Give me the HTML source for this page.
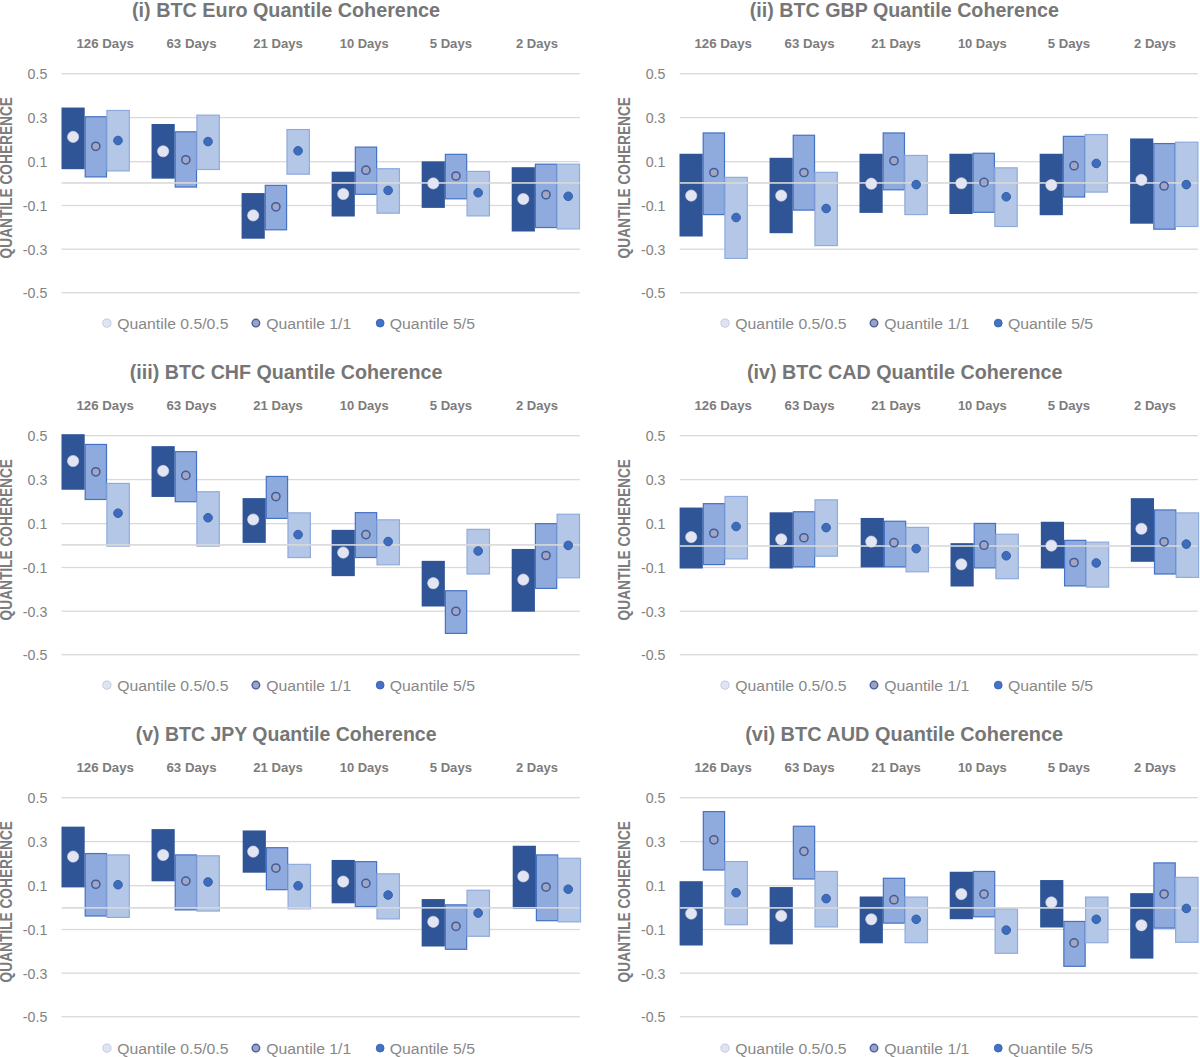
<!DOCTYPE html>
<html><head><meta charset="utf-8"><title>Quantile Coherence</title>
<style>
html,body{margin:0;padding:0;background:#fff;}
body{width:1200px;height:1057px;overflow:hidden;}
svg{display:block;}
text{font-family:"Liberation Sans",sans-serif;}
.ti{font-size:19.4px;font-weight:bold;fill:#767676;}
.ca{font-size:13px;font-weight:bold;fill:#7c7c7c;}
.yt{font-size:16.3px;font-weight:bold;fill:#7c7c7c;}
.tk{font-size:14.2px;fill:#828282;text-anchor:end;}
.lg{font-size:15.3px;fill:#888888;}
</style></head>
<body>
<svg width="1200" height="1057" viewBox="0 0 1200 1057">
<rect width="1200" height="1057" fill="#ffffff"/>
<g transform="translate(0,0)">
<text class="ti" x="132" y="16.6" textLength="308" lengthAdjust="spacingAndGlyphs">(i) BTC Euro Quantile Coherence</text>
<text class="ca" x="76.4" y="48.1" textLength="57.5" lengthAdjust="spacingAndGlyphs">126 Days</text>
<text class="ca" x="166.5" y="48.1" textLength="50" lengthAdjust="spacingAndGlyphs">63 Days</text>
<text class="ca" x="253.2" y="48.1" textLength="49.6" lengthAdjust="spacingAndGlyphs">21 Days</text>
<text class="ca" x="339.8" y="48.1" textLength="48.9" lengthAdjust="spacingAndGlyphs">10 Days</text>
<text class="ca" x="429.7" y="48.1" textLength="42.3" lengthAdjust="spacingAndGlyphs">5 Days</text>
<text class="ca" x="516" y="48.1" textLength="42" lengthAdjust="spacingAndGlyphs">2 Days</text>
<text class="yt" transform="translate(11.7,258.4) rotate(-90)" x="0" y="0" textLength="161.4" lengthAdjust="spacingAndGlyphs">QUANTILE COHERENCE</text>
<text class="tk" x="47.3" y="79.27">0.5</text>
<rect x="61.6" y="73.02" width="518.1" height="1.3" fill="#d9d9d9"/>
<text class="tk" x="47.3" y="123.18">0.3</text>
<rect x="61.6" y="116.93" width="518.1" height="1.3" fill="#d9d9d9"/>
<text class="tk" x="47.3" y="167.27">0.1</text>
<rect x="61.6" y="161.02" width="518.1" height="1.3" fill="#d9d9d9"/>
<text class="tk" x="47.3" y="211.1">-0.1</text>
<rect x="61.6" y="204.85" width="518.1" height="1.3" fill="#d9d9d9"/>
<text class="tk" x="47.3" y="254.77">-0.3</text>
<rect x="61.6" y="248.52" width="518.1" height="1.3" fill="#d9d9d9"/>
<text class="tk" x="47.3" y="298.35">-0.5</text>
<rect x="61.6" y="292.1" width="518.1" height="1.3" fill="#d9d9d9"/>
<rect x="61.5" y="107.55" width="23.2" height="61.65" fill="#2f5597"/>
<rect x="85.2" y="116.75" width="21.3" height="60.15" fill="#8faadc" stroke="#4472c4" stroke-width="1.2"/>
<rect x="106.9" y="110.45" width="22.4" height="60.45" fill="#b4c7e7" stroke="#8faadc" stroke-width="1.2"/>
<rect x="151.54" y="124" width="23.2" height="54.65" fill="#2f5597"/>
<rect x="175.24" y="131.8" width="21.3" height="55.25" fill="#8faadc" stroke="#4472c4" stroke-width="1.2"/>
<rect x="196.94" y="115.15" width="22.4" height="54.35" fill="#b4c7e7" stroke="#8faadc" stroke-width="1.2"/>
<rect x="241.58" y="193.05" width="23.2" height="45.65" fill="#2f5597"/>
<rect x="265.28" y="185.35" width="21.3" height="44.45" fill="#8faadc" stroke="#4472c4" stroke-width="1.2"/>
<rect x="286.98" y="129.55" width="22.4" height="44.65" fill="#b4c7e7" stroke="#8faadc" stroke-width="1.2"/>
<rect x="331.62" y="171.7" width="23.2" height="44.8" fill="#2f5597"/>
<rect x="355.32" y="147.1" width="21.3" height="47.2" fill="#8faadc" stroke="#4472c4" stroke-width="1.2"/>
<rect x="377.02" y="168.7" width="22.4" height="44.5" fill="#b4c7e7" stroke="#8faadc" stroke-width="1.2"/>
<rect x="421.66" y="161.35" width="23.2" height="46.55" fill="#2f5597"/>
<rect x="445.36" y="154.35" width="21.3" height="44.45" fill="#8faadc" stroke="#4472c4" stroke-width="1.2"/>
<rect x="467.06" y="171.4" width="22.4" height="44.5" fill="#b4c7e7" stroke="#8faadc" stroke-width="1.2"/>
<rect x="511.7" y="167.2" width="23.2" height="64.3" fill="#2f5597"/>
<rect x="535.4" y="164.2" width="21.3" height="63.35" fill="#8faadc" stroke="#4472c4" stroke-width="1.2"/>
<rect x="557.1" y="164.2" width="22.4" height="64.7" fill="#b4c7e7" stroke="#8faadc" stroke-width="1.2"/>
<rect x="61.6" y="182.15" width="518.1" height="1.6" fill="#d9d9d9"/>
<circle cx="73.1" cy="136.9" r="5.6" fill="#e3e5f3" stroke="#d6daee" stroke-width="0.6"/>
<circle cx="95.8" cy="146.3" r="4.1" fill="#a1a6c3" stroke="#405c9a" stroke-width="1.5"/>
<circle cx="118" cy="140.5" r="4.3" fill="#3e6cbc" stroke="#345ea8" stroke-width="1"/>
<circle cx="163.14" cy="151.25" r="5.6" fill="#e3e5f3" stroke="#d6daee" stroke-width="0.6"/>
<circle cx="185.84" cy="159.8" r="4.1" fill="#a1a6c3" stroke="#405c9a" stroke-width="1.5"/>
<circle cx="208.04" cy="141.6" r="4.3" fill="#3e6cbc" stroke="#345ea8" stroke-width="1"/>
<circle cx="253.18" cy="215.4" r="5.6" fill="#e3e5f3" stroke="#d6daee" stroke-width="0.6"/>
<circle cx="275.88" cy="206.8" r="4.1" fill="#a1a6c3" stroke="#405c9a" stroke-width="1.5"/>
<circle cx="298.08" cy="150.8" r="4.3" fill="#3e6cbc" stroke="#345ea8" stroke-width="1"/>
<circle cx="343.22" cy="194" r="5.6" fill="#e3e5f3" stroke="#d6daee" stroke-width="0.6"/>
<circle cx="365.92" cy="170.2" r="4.1" fill="#a1a6c3" stroke="#405c9a" stroke-width="1.5"/>
<circle cx="388.12" cy="190.4" r="4.3" fill="#3e6cbc" stroke="#345ea8" stroke-width="1"/>
<circle cx="433.26" cy="183.4" r="5.6" fill="#e3e5f3" stroke="#d6daee" stroke-width="0.6"/>
<circle cx="455.96" cy="176" r="4.1" fill="#a1a6c3" stroke="#405c9a" stroke-width="1.5"/>
<circle cx="478.16" cy="192.7" r="4.3" fill="#3e6cbc" stroke="#345ea8" stroke-width="1"/>
<circle cx="523.3" cy="199" r="5.6" fill="#e3e5f3" stroke="#d6daee" stroke-width="0.6"/>
<circle cx="546" cy="194.7" r="4.1" fill="#a1a6c3" stroke="#405c9a" stroke-width="1.5"/>
<circle cx="568.2" cy="196.3" r="4.3" fill="#3e6cbc" stroke="#345ea8" stroke-width="1"/>
<circle cx="106.9" cy="323.1" r="4.1" fill="#e0e3f2" stroke="#c5cbe5" stroke-width="1"/>
<text class="lg" x="117.25" y="328.8" textLength="111.25" lengthAdjust="spacingAndGlyphs">Quantile 0.5/0.5</text>
<circle cx="255.9" cy="323.1" r="3.8" fill="#9ca3c4" stroke="#45609f" stroke-width="1.4"/>
<text class="lg" x="266.25" y="328.8" textLength="85" lengthAdjust="spacingAndGlyphs">Quantile 1/1</text>
<circle cx="380.15" cy="323.1" r="3.9" fill="#4472c4" stroke="#3a64b5" stroke-width="1"/>
<text class="lg" x="389.8" y="328.8" textLength="85.2" lengthAdjust="spacingAndGlyphs">Quantile 5/5</text>
</g>
<g transform="translate(618.1,0)">
<text class="ti" x="131.7" y="16.6" textLength="309.1" lengthAdjust="spacingAndGlyphs">(ii) BTC GBP Quantile Coherence</text>
<text class="ca" x="76.4" y="48.1" textLength="57.5" lengthAdjust="spacingAndGlyphs">126 Days</text>
<text class="ca" x="166.5" y="48.1" textLength="50" lengthAdjust="spacingAndGlyphs">63 Days</text>
<text class="ca" x="253.2" y="48.1" textLength="49.6" lengthAdjust="spacingAndGlyphs">21 Days</text>
<text class="ca" x="339.8" y="48.1" textLength="48.9" lengthAdjust="spacingAndGlyphs">10 Days</text>
<text class="ca" x="429.7" y="48.1" textLength="42.3" lengthAdjust="spacingAndGlyphs">5 Days</text>
<text class="ca" x="516" y="48.1" textLength="42" lengthAdjust="spacingAndGlyphs">2 Days</text>
<text class="yt" transform="translate(11.7,258.4) rotate(-90)" x="0" y="0" textLength="161.4" lengthAdjust="spacingAndGlyphs">QUANTILE COHERENCE</text>
<text class="tk" x="47.3" y="79.27">0.5</text>
<rect x="61.6" y="73.02" width="518.1" height="1.3" fill="#d9d9d9"/>
<text class="tk" x="47.3" y="123.18">0.3</text>
<rect x="61.6" y="116.93" width="518.1" height="1.3" fill="#d9d9d9"/>
<text class="tk" x="47.3" y="167.27">0.1</text>
<rect x="61.6" y="161.02" width="518.1" height="1.3" fill="#d9d9d9"/>
<text class="tk" x="47.3" y="211.1">-0.1</text>
<rect x="61.6" y="204.85" width="518.1" height="1.3" fill="#d9d9d9"/>
<text class="tk" x="47.3" y="254.77">-0.3</text>
<rect x="61.6" y="248.52" width="518.1" height="1.3" fill="#d9d9d9"/>
<text class="tk" x="47.3" y="298.35">-0.5</text>
<rect x="61.6" y="292.1" width="518.1" height="1.3" fill="#d9d9d9"/>
<rect x="61.4" y="153.75" width="23.2" height="82.75" fill="#2f5597"/>
<rect x="85.1" y="132.95" width="21.3" height="81.65" fill="#8faadc" stroke="#4472c4" stroke-width="1.2"/>
<rect x="106.8" y="177.35" width="22.4" height="81.05" fill="#b4c7e7" stroke="#8faadc" stroke-width="1.2"/>
<rect x="151.44" y="157.8" width="23.2" height="75.4" fill="#2f5597"/>
<rect x="175.14" y="135.25" width="21.3" height="74.85" fill="#8faadc" stroke="#4472c4" stroke-width="1.2"/>
<rect x="196.84" y="172.35" width="22.4" height="73.25" fill="#b4c7e7" stroke="#8faadc" stroke-width="1.2"/>
<rect x="241.38" y="153.75" width="23.2" height="59.15" fill="#2f5597"/>
<rect x="265.08" y="132.95" width="21.3" height="56.85" fill="#8faadc" stroke="#4472c4" stroke-width="1.2"/>
<rect x="286.78" y="155.45" width="22.4" height="59.15" fill="#b4c7e7" stroke="#8faadc" stroke-width="1.2"/>
<rect x="331.32" y="153.75" width="23.2" height="60.25" fill="#2f5597"/>
<rect x="355.02" y="153.25" width="21.3" height="59.05" fill="#8faadc" stroke="#4472c4" stroke-width="1.2"/>
<rect x="376.72" y="167.85" width="22.4" height="58.65" fill="#b4c7e7" stroke="#8faadc" stroke-width="1.2"/>
<rect x="421.56" y="153.75" width="23.2" height="61.45" fill="#2f5597"/>
<rect x="445.26" y="136.35" width="21.3" height="60.65" fill="#8faadc" stroke="#4472c4" stroke-width="1.2"/>
<rect x="466.96" y="134.55" width="22.4" height="57.55" fill="#b4c7e7" stroke="#8faadc" stroke-width="1.2"/>
<rect x="512" y="138.45" width="23.2" height="85.25" fill="#2f5597"/>
<rect x="535.7" y="143.55" width="21.3" height="85.65" fill="#8faadc" stroke="#4472c4" stroke-width="1.2"/>
<rect x="557.4" y="142.2" width="22.4" height="84.3" fill="#b4c7e7" stroke="#8faadc" stroke-width="1.2"/>
<rect x="61.6" y="182.15" width="518.1" height="1.6" fill="#d9d9d9"/>
<circle cx="73.1" cy="195.6" r="5.6" fill="#e3e5f3" stroke="#d6daee" stroke-width="0.6"/>
<circle cx="95.8" cy="172.5" r="4.1" fill="#a1a6c3" stroke="#405c9a" stroke-width="1.5"/>
<circle cx="118" cy="217.5" r="4.3" fill="#3e6cbc" stroke="#345ea8" stroke-width="1"/>
<circle cx="163.14" cy="195.6" r="5.6" fill="#e3e5f3" stroke="#d6daee" stroke-width="0.6"/>
<circle cx="185.84" cy="172.5" r="4.1" fill="#a1a6c3" stroke="#405c9a" stroke-width="1.5"/>
<circle cx="208.04" cy="208.5" r="4.3" fill="#3e6cbc" stroke="#345ea8" stroke-width="1"/>
<circle cx="253.18" cy="183.7" r="5.6" fill="#e3e5f3" stroke="#d6daee" stroke-width="0.6"/>
<circle cx="275.88" cy="160.75" r="4.1" fill="#a1a6c3" stroke="#405c9a" stroke-width="1.5"/>
<circle cx="298.08" cy="184.6" r="4.3" fill="#3e6cbc" stroke="#345ea8" stroke-width="1"/>
<circle cx="343.22" cy="183.25" r="5.6" fill="#e3e5f3" stroke="#d6daee" stroke-width="0.6"/>
<circle cx="365.92" cy="182.4" r="4.1" fill="#a1a6c3" stroke="#405c9a" stroke-width="1.5"/>
<circle cx="388.12" cy="196.75" r="4.3" fill="#3e6cbc" stroke="#345ea8" stroke-width="1"/>
<circle cx="433.26" cy="185.05" r="5.6" fill="#e3e5f3" stroke="#d6daee" stroke-width="0.6"/>
<circle cx="455.96" cy="165.7" r="4.1" fill="#a1a6c3" stroke="#405c9a" stroke-width="1.5"/>
<circle cx="478.16" cy="163.45" r="4.3" fill="#3e6cbc" stroke="#345ea8" stroke-width="1"/>
<circle cx="523.3" cy="179.9" r="5.6" fill="#e3e5f3" stroke="#d6daee" stroke-width="0.6"/>
<circle cx="546" cy="186" r="4.1" fill="#a1a6c3" stroke="#405c9a" stroke-width="1.5"/>
<circle cx="568.2" cy="184.6" r="4.3" fill="#3e6cbc" stroke="#345ea8" stroke-width="1"/>
<circle cx="106.9" cy="323.1" r="4.1" fill="#e0e3f2" stroke="#c5cbe5" stroke-width="1"/>
<text class="lg" x="117.25" y="328.8" textLength="111.25" lengthAdjust="spacingAndGlyphs">Quantile 0.5/0.5</text>
<circle cx="255.9" cy="323.1" r="3.8" fill="#9ca3c4" stroke="#45609f" stroke-width="1.4"/>
<text class="lg" x="266.25" y="328.8" textLength="85" lengthAdjust="spacingAndGlyphs">Quantile 1/1</text>
<circle cx="380.15" cy="323.1" r="3.9" fill="#4472c4" stroke="#3a64b5" stroke-width="1"/>
<text class="lg" x="389.8" y="328.8" textLength="85.2" lengthAdjust="spacingAndGlyphs">Quantile 5/5</text>
</g>
<g transform="translate(0,362)">
<text class="ti" x="129.8" y="16.6" textLength="312.6" lengthAdjust="spacingAndGlyphs">(iii) BTC CHF Quantile Coherence</text>
<text class="ca" x="76.4" y="48.1" textLength="57.5" lengthAdjust="spacingAndGlyphs">126 Days</text>
<text class="ca" x="166.5" y="48.1" textLength="50" lengthAdjust="spacingAndGlyphs">63 Days</text>
<text class="ca" x="253.2" y="48.1" textLength="49.6" lengthAdjust="spacingAndGlyphs">21 Days</text>
<text class="ca" x="339.8" y="48.1" textLength="48.9" lengthAdjust="spacingAndGlyphs">10 Days</text>
<text class="ca" x="429.7" y="48.1" textLength="42.3" lengthAdjust="spacingAndGlyphs">5 Days</text>
<text class="ca" x="516" y="48.1" textLength="42" lengthAdjust="spacingAndGlyphs">2 Days</text>
<text class="yt" transform="translate(11.7,258.4) rotate(-90)" x="0" y="0" textLength="161.4" lengthAdjust="spacingAndGlyphs">QUANTILE COHERENCE</text>
<text class="tk" x="47.3" y="79.27">0.5</text>
<rect x="61.6" y="73.02" width="518.1" height="1.3" fill="#d9d9d9"/>
<text class="tk" x="47.3" y="123.18">0.3</text>
<rect x="61.6" y="116.93" width="518.1" height="1.3" fill="#d9d9d9"/>
<text class="tk" x="47.3" y="167.27">0.1</text>
<rect x="61.6" y="161.02" width="518.1" height="1.3" fill="#d9d9d9"/>
<text class="tk" x="47.3" y="211.1">-0.1</text>
<rect x="61.6" y="204.85" width="518.1" height="1.3" fill="#d9d9d9"/>
<text class="tk" x="47.3" y="254.77">-0.3</text>
<rect x="61.6" y="248.52" width="518.1" height="1.3" fill="#d9d9d9"/>
<text class="tk" x="47.3" y="298.35">-0.5</text>
<rect x="61.6" y="292.1" width="518.1" height="1.3" fill="#d9d9d9"/>
<rect x="61.5" y="72.2" width="23.2" height="55.55" fill="#2f5597"/>
<rect x="85.2" y="82.45" width="21.3" height="55.05" fill="#8faadc" stroke="#4472c4" stroke-width="1.2"/>
<rect x="106.9" y="121.4" width="22.4" height="62.7" fill="#b4c7e7" stroke="#8faadc" stroke-width="1.2"/>
<rect x="151.54" y="84.15" width="23.2" height="50.8" fill="#2f5597"/>
<rect x="175.24" y="89.65" width="21.3" height="50.1" fill="#8faadc" stroke="#4472c4" stroke-width="1.2"/>
<rect x="196.94" y="129.75" width="22.4" height="54.35" fill="#b4c7e7" stroke="#8faadc" stroke-width="1.2"/>
<rect x="242.58" y="136.1" width="23.2" height="44.8" fill="#2f5597"/>
<rect x="266.28" y="114.45" width="21.3" height="41.95" fill="#8faadc" stroke="#4472c4" stroke-width="1.2"/>
<rect x="287.98" y="150.85" width="22.4" height="44.7" fill="#b4c7e7" stroke="#8faadc" stroke-width="1.2"/>
<rect x="331.62" y="167.85" width="23.2" height="46.3" fill="#2f5597"/>
<rect x="355.32" y="150.65" width="21.3" height="44.9" fill="#8faadc" stroke="#4472c4" stroke-width="1.2"/>
<rect x="377.02" y="157.85" width="22.4" height="44.95" fill="#b4c7e7" stroke="#8faadc" stroke-width="1.2"/>
<rect x="421.66" y="198.85" width="23.2" height="45.65" fill="#2f5597"/>
<rect x="445.36" y="228.75" width="21.3" height="42.65" fill="#8faadc" stroke="#4472c4" stroke-width="1.2"/>
<rect x="467.06" y="167.35" width="22.4" height="44.65" fill="#b4c7e7" stroke="#8faadc" stroke-width="1.2"/>
<rect x="511.7" y="186.95" width="23.2" height="62.75" fill="#2f5597"/>
<rect x="535.4" y="161.65" width="21.3" height="64.75" fill="#8faadc" stroke="#4472c4" stroke-width="1.2"/>
<rect x="557.1" y="152.25" width="22.4" height="63.55" fill="#b4c7e7" stroke="#8faadc" stroke-width="1.2"/>
<rect x="61.6" y="182.1" width="518.1" height="1.6" fill="#d9d9d9"/>
<circle cx="73.1" cy="99" r="5.6" fill="#e3e5f3" stroke="#d6daee" stroke-width="0.6"/>
<circle cx="95.8" cy="109.8" r="4.1" fill="#a1a6c3" stroke="#405c9a" stroke-width="1.5"/>
<circle cx="118" cy="151.2" r="4.3" fill="#3e6cbc" stroke="#345ea8" stroke-width="1"/>
<circle cx="163.14" cy="108.9" r="5.6" fill="#e3e5f3" stroke="#d6daee" stroke-width="0.6"/>
<circle cx="185.84" cy="113.4" r="4.1" fill="#a1a6c3" stroke="#405c9a" stroke-width="1.5"/>
<circle cx="208.04" cy="155.7" r="4.3" fill="#3e6cbc" stroke="#345ea8" stroke-width="1"/>
<circle cx="253.18" cy="157.5" r="5.6" fill="#e3e5f3" stroke="#d6daee" stroke-width="0.6"/>
<circle cx="275.88" cy="134.55" r="4.1" fill="#a1a6c3" stroke="#405c9a" stroke-width="1.5"/>
<circle cx="298.08" cy="172.6" r="4.3" fill="#3e6cbc" stroke="#345ea8" stroke-width="1"/>
<circle cx="343.22" cy="190.6" r="5.6" fill="#e3e5f3" stroke="#d6daee" stroke-width="0.6"/>
<circle cx="365.92" cy="172.6" r="4.1" fill="#a1a6c3" stroke="#405c9a" stroke-width="1.5"/>
<circle cx="388.12" cy="179.55" r="4.3" fill="#3e6cbc" stroke="#345ea8" stroke-width="1"/>
<circle cx="433.26" cy="221.2" r="5.6" fill="#e3e5f3" stroke="#d6daee" stroke-width="0.6"/>
<circle cx="455.96" cy="249.3" r="4.1" fill="#a1a6c3" stroke="#405c9a" stroke-width="1.5"/>
<circle cx="478.16" cy="189" r="4.3" fill="#3e6cbc" stroke="#345ea8" stroke-width="1"/>
<circle cx="523.3" cy="217.6" r="5.6" fill="#e3e5f3" stroke="#d6daee" stroke-width="0.6"/>
<circle cx="546" cy="193.5" r="4.1" fill="#a1a6c3" stroke="#405c9a" stroke-width="1.5"/>
<circle cx="568.2" cy="183.4" r="4.3" fill="#3e6cbc" stroke="#345ea8" stroke-width="1"/>
<circle cx="106.9" cy="323.1" r="4.1" fill="#e0e3f2" stroke="#c5cbe5" stroke-width="1"/>
<text class="lg" x="117.25" y="328.8" textLength="111.25" lengthAdjust="spacingAndGlyphs">Quantile 0.5/0.5</text>
<circle cx="255.9" cy="323.1" r="3.8" fill="#9ca3c4" stroke="#45609f" stroke-width="1.4"/>
<text class="lg" x="266.25" y="328.8" textLength="85" lengthAdjust="spacingAndGlyphs">Quantile 1/1</text>
<circle cx="380.15" cy="323.1" r="3.9" fill="#4472c4" stroke="#3a64b5" stroke-width="1"/>
<text class="lg" x="389.8" y="328.8" textLength="85.2" lengthAdjust="spacingAndGlyphs">Quantile 5/5</text>
</g>
<g transform="translate(618.1,362)">
<text class="ti" x="128.8" y="16.6" textLength="315.5" lengthAdjust="spacingAndGlyphs">(iv) BTC CAD Quantile Coherence</text>
<text class="ca" x="76.4" y="48.1" textLength="57.5" lengthAdjust="spacingAndGlyphs">126 Days</text>
<text class="ca" x="166.5" y="48.1" textLength="50" lengthAdjust="spacingAndGlyphs">63 Days</text>
<text class="ca" x="253.2" y="48.1" textLength="49.6" lengthAdjust="spacingAndGlyphs">21 Days</text>
<text class="ca" x="339.8" y="48.1" textLength="48.9" lengthAdjust="spacingAndGlyphs">10 Days</text>
<text class="ca" x="429.7" y="48.1" textLength="42.3" lengthAdjust="spacingAndGlyphs">5 Days</text>
<text class="ca" x="516" y="48.1" textLength="42" lengthAdjust="spacingAndGlyphs">2 Days</text>
<text class="yt" transform="translate(11.7,258.4) rotate(-90)" x="0" y="0" textLength="161.4" lengthAdjust="spacingAndGlyphs">QUANTILE COHERENCE</text>
<text class="tk" x="47.3" y="79.27">0.5</text>
<rect x="61.6" y="73.02" width="518.1" height="1.3" fill="#d9d9d9"/>
<text class="tk" x="47.3" y="123.18">0.3</text>
<rect x="61.6" y="116.93" width="518.1" height="1.3" fill="#d9d9d9"/>
<text class="tk" x="47.3" y="167.27">0.1</text>
<rect x="61.6" y="161.02" width="518.1" height="1.3" fill="#d9d9d9"/>
<text class="tk" x="47.3" y="211.1">-0.1</text>
<rect x="61.6" y="204.85" width="518.1" height="1.3" fill="#d9d9d9"/>
<text class="tk" x="47.3" y="254.77">-0.3</text>
<rect x="61.6" y="248.52" width="518.1" height="1.3" fill="#d9d9d9"/>
<text class="tk" x="47.3" y="298.35">-0.5</text>
<rect x="61.6" y="292.1" width="518.1" height="1.3" fill="#d9d9d9"/>
<rect x="61.5" y="145.55" width="23.2" height="60.95" fill="#2f5597"/>
<rect x="85.2" y="141.65" width="21.3" height="60.95" fill="#8faadc" stroke="#4472c4" stroke-width="1.2"/>
<rect x="106.9" y="134.45" width="22.4" height="62.45" fill="#b4c7e7" stroke="#8faadc" stroke-width="1.2"/>
<rect x="151.54" y="150.3" width="23.2" height="56.2" fill="#2f5597"/>
<rect x="175.24" y="149.75" width="21.3" height="55.05" fill="#8faadc" stroke="#4472c4" stroke-width="1.2"/>
<rect x="196.94" y="137.85" width="22.4" height="56.35" fill="#b4c7e7" stroke="#8faadc" stroke-width="1.2"/>
<rect x="242.58" y="155.95" width="23.2" height="49.45" fill="#2f5597"/>
<rect x="266.28" y="159.25" width="21.3" height="45.55" fill="#8faadc" stroke="#4472c4" stroke-width="1.2"/>
<rect x="287.98" y="165.35" width="22.4" height="44.45" fill="#b4c7e7" stroke="#8faadc" stroke-width="1.2"/>
<rect x="332.42" y="181.15" width="23.2" height="43.35" fill="#2f5597"/>
<rect x="356.12" y="161.45" width="21.3" height="44.45" fill="#8faadc" stroke="#4472c4" stroke-width="1.2"/>
<rect x="377.82" y="172.25" width="22.4" height="44.45" fill="#b4c7e7" stroke="#8faadc" stroke-width="1.2"/>
<rect x="422.76" y="159.75" width="23.2" height="46.75" fill="#2f5597"/>
<rect x="446.46" y="178.35" width="21.3" height="45.55" fill="#8faadc" stroke="#4472c4" stroke-width="1.2"/>
<rect x="468.16" y="180.15" width="22.4" height="44.95" fill="#b4c7e7" stroke="#8faadc" stroke-width="1.2"/>
<rect x="512.7" y="136.15" width="23.2" height="63.65" fill="#2f5597"/>
<rect x="536.4" y="147.95" width="21.3" height="64.05" fill="#8faadc" stroke="#4472c4" stroke-width="1.2"/>
<rect x="558.1" y="150.9" width="22.4" height="64.5" fill="#b4c7e7" stroke="#8faadc" stroke-width="1.2"/>
<rect x="61.6" y="183.2" width="518.1" height="1.6" fill="#d9d9d9"/>
<circle cx="73.1" cy="175.1" r="5.6" fill="#e3e5f3" stroke="#d6daee" stroke-width="0.6"/>
<circle cx="95.8" cy="171.25" r="4.1" fill="#a1a6c3" stroke="#405c9a" stroke-width="1.5"/>
<circle cx="118" cy="164.5" r="4.3" fill="#3e6cbc" stroke="#345ea8" stroke-width="1"/>
<circle cx="163.14" cy="177.3" r="5.6" fill="#e3e5f3" stroke="#d6daee" stroke-width="0.6"/>
<circle cx="185.84" cy="175.75" r="4.1" fill="#a1a6c3" stroke="#405c9a" stroke-width="1.5"/>
<circle cx="208.04" cy="165.6" r="4.3" fill="#3e6cbc" stroke="#345ea8" stroke-width="1"/>
<circle cx="253.18" cy="179.6" r="5.6" fill="#e3e5f3" stroke="#d6daee" stroke-width="0.6"/>
<circle cx="275.88" cy="180.7" r="4.1" fill="#a1a6c3" stroke="#405c9a" stroke-width="1.5"/>
<circle cx="298.08" cy="186.6" r="4.3" fill="#3e6cbc" stroke="#345ea8" stroke-width="1"/>
<circle cx="343.22" cy="202.3" r="5.6" fill="#e3e5f3" stroke="#d6daee" stroke-width="0.6"/>
<circle cx="365.92" cy="183.2" r="4.1" fill="#a1a6c3" stroke="#405c9a" stroke-width="1.5"/>
<circle cx="388.12" cy="193.75" r="4.3" fill="#3e6cbc" stroke="#345ea8" stroke-width="1"/>
<circle cx="433.26" cy="183.6" r="5.6" fill="#e3e5f3" stroke="#d6daee" stroke-width="0.6"/>
<circle cx="455.96" cy="200.5" r="4.1" fill="#a1a6c3" stroke="#405c9a" stroke-width="1.5"/>
<circle cx="478.16" cy="201" r="4.3" fill="#3e6cbc" stroke="#345ea8" stroke-width="1"/>
<circle cx="523.3" cy="166.75" r="5.6" fill="#e3e5f3" stroke="#d6daee" stroke-width="0.6"/>
<circle cx="546" cy="179.8" r="4.1" fill="#a1a6c3" stroke="#405c9a" stroke-width="1.5"/>
<circle cx="568.2" cy="182.1" r="4.3" fill="#3e6cbc" stroke="#345ea8" stroke-width="1"/>
<circle cx="106.9" cy="323.1" r="4.1" fill="#e0e3f2" stroke="#c5cbe5" stroke-width="1"/>
<text class="lg" x="117.25" y="328.8" textLength="111.25" lengthAdjust="spacingAndGlyphs">Quantile 0.5/0.5</text>
<circle cx="255.9" cy="323.1" r="3.8" fill="#9ca3c4" stroke="#45609f" stroke-width="1.4"/>
<text class="lg" x="266.25" y="328.8" textLength="85" lengthAdjust="spacingAndGlyphs">Quantile 1/1</text>
<circle cx="380.15" cy="323.1" r="3.9" fill="#4472c4" stroke="#3a64b5" stroke-width="1"/>
<text class="lg" x="389.8" y="328.8" textLength="85.2" lengthAdjust="spacingAndGlyphs">Quantile 5/5</text>
</g>
<g transform="translate(0,724)">
<text class="ti" x="135.7" y="16.6" textLength="300.8" lengthAdjust="spacingAndGlyphs">(v) BTC JPY Quantile Coherence</text>
<text class="ca" x="76.4" y="48.1" textLength="57.5" lengthAdjust="spacingAndGlyphs">126 Days</text>
<text class="ca" x="166.5" y="48.1" textLength="50" lengthAdjust="spacingAndGlyphs">63 Days</text>
<text class="ca" x="253.2" y="48.1" textLength="49.6" lengthAdjust="spacingAndGlyphs">21 Days</text>
<text class="ca" x="339.8" y="48.1" textLength="48.9" lengthAdjust="spacingAndGlyphs">10 Days</text>
<text class="ca" x="429.7" y="48.1" textLength="42.3" lengthAdjust="spacingAndGlyphs">5 Days</text>
<text class="ca" x="516" y="48.1" textLength="42" lengthAdjust="spacingAndGlyphs">2 Days</text>
<text class="yt" transform="translate(11.7,258.4) rotate(-90)" x="0" y="0" textLength="161.4" lengthAdjust="spacingAndGlyphs">QUANTILE COHERENCE</text>
<text class="tk" x="47.3" y="79.27">0.5</text>
<rect x="61.6" y="73.02" width="518.1" height="1.3" fill="#d9d9d9"/>
<text class="tk" x="47.3" y="123.18">0.3</text>
<rect x="61.6" y="116.93" width="518.1" height="1.3" fill="#d9d9d9"/>
<text class="tk" x="47.3" y="167.27">0.1</text>
<rect x="61.6" y="161.02" width="518.1" height="1.3" fill="#d9d9d9"/>
<text class="tk" x="47.3" y="211.1">-0.1</text>
<rect x="61.6" y="204.85" width="518.1" height="1.3" fill="#d9d9d9"/>
<text class="tk" x="47.3" y="254.77">-0.3</text>
<rect x="61.6" y="248.52" width="518.1" height="1.3" fill="#d9d9d9"/>
<text class="tk" x="47.3" y="298.35">-0.5</text>
<rect x="61.6" y="292.1" width="518.1" height="1.3" fill="#d9d9d9"/>
<rect x="61.5" y="102.65" width="23.2" height="60.75" fill="#2f5597"/>
<rect x="85.2" y="129.55" width="21.3" height="62.45" fill="#8faadc" stroke="#4472c4" stroke-width="1.2"/>
<rect x="106.9" y="130.9" width="22.4" height="62.5" fill="#b4c7e7" stroke="#8faadc" stroke-width="1.2"/>
<rect x="151.54" y="105.1" width="23.2" height="52.2" fill="#2f5597"/>
<rect x="175.24" y="130.9" width="21.3" height="55" fill="#8faadc" stroke="#4472c4" stroke-width="1.2"/>
<rect x="196.94" y="131.8" width="22.4" height="55.25" fill="#b4c7e7" stroke="#8faadc" stroke-width="1.2"/>
<rect x="242.68" y="106.45" width="23.2" height="42.25" fill="#2f5597"/>
<rect x="266.38" y="123.7" width="21.3" height="42" fill="#8faadc" stroke="#4472c4" stroke-width="1.2"/>
<rect x="288.08" y="140.35" width="22.4" height="44.45" fill="#b4c7e7" stroke="#8faadc" stroke-width="1.2"/>
<rect x="331.62" y="135.95" width="23.2" height="43.35" fill="#2f5597"/>
<rect x="355.32" y="137.65" width="21.3" height="44.9" fill="#8faadc" stroke="#4472c4" stroke-width="1.2"/>
<rect x="377.02" y="149.8" width="22.4" height="45.1" fill="#b4c7e7" stroke="#8faadc" stroke-width="1.2"/>
<rect x="421.66" y="175.05" width="23.2" height="47.45" fill="#2f5597"/>
<rect x="445.36" y="180.85" width="21.3" height="44.45" fill="#8faadc" stroke="#4472c4" stroke-width="1.2"/>
<rect x="467.06" y="166.25" width="22.4" height="46.05" fill="#b4c7e7" stroke="#8faadc" stroke-width="1.2"/>
<rect x="512.7" y="121.75" width="23.2" height="63.2" fill="#2f5597"/>
<rect x="536.4" y="130.9" width="21.3" height="65.8" fill="#8faadc" stroke="#4472c4" stroke-width="1.2"/>
<rect x="558.1" y="134.25" width="22.4" height="63.6" fill="#b4c7e7" stroke="#8faadc" stroke-width="1.2"/>
<rect x="61.6" y="183.05" width="518.1" height="1.6" fill="#d9d9d9"/>
<circle cx="73.1" cy="132.6" r="5.6" fill="#e3e5f3" stroke="#d6daee" stroke-width="0.6"/>
<circle cx="95.8" cy="160.25" r="4.1" fill="#a1a6c3" stroke="#405c9a" stroke-width="1.5"/>
<circle cx="118" cy="160.7" r="4.3" fill="#3e6cbc" stroke="#345ea8" stroke-width="1"/>
<circle cx="163.14" cy="131" r="5.6" fill="#e3e5f3" stroke="#d6daee" stroke-width="0.6"/>
<circle cx="185.84" cy="157.1" r="4.1" fill="#a1a6c3" stroke="#405c9a" stroke-width="1.5"/>
<circle cx="208.04" cy="158" r="4.3" fill="#3e6cbc" stroke="#345ea8" stroke-width="1"/>
<circle cx="253.18" cy="127.6" r="5.6" fill="#e3e5f3" stroke="#d6daee" stroke-width="0.6"/>
<circle cx="275.88" cy="144.05" r="4.1" fill="#a1a6c3" stroke="#405c9a" stroke-width="1.5"/>
<circle cx="298.08" cy="161.8" r="4.3" fill="#3e6cbc" stroke="#345ea8" stroke-width="1"/>
<circle cx="343.22" cy="157.55" r="5.6" fill="#e3e5f3" stroke="#d6daee" stroke-width="0.6"/>
<circle cx="365.92" cy="159.35" r="4.1" fill="#a1a6c3" stroke="#405c9a" stroke-width="1.5"/>
<circle cx="388.12" cy="171.05" r="4.3" fill="#3e6cbc" stroke="#345ea8" stroke-width="1"/>
<circle cx="433.26" cy="197.8" r="5.6" fill="#e3e5f3" stroke="#d6daee" stroke-width="0.6"/>
<circle cx="455.96" cy="202.3" r="4.1" fill="#a1a6c3" stroke="#405c9a" stroke-width="1.5"/>
<circle cx="478.16" cy="189.05" r="4.3" fill="#3e6cbc" stroke="#345ea8" stroke-width="1"/>
<circle cx="523.3" cy="152.4" r="5.6" fill="#e3e5f3" stroke="#d6daee" stroke-width="0.6"/>
<circle cx="546" cy="163" r="4.1" fill="#a1a6c3" stroke="#405c9a" stroke-width="1.5"/>
<circle cx="568.2" cy="165.2" r="4.3" fill="#3e6cbc" stroke="#345ea8" stroke-width="1"/>
<circle cx="106.9" cy="324.1" r="4.1" fill="#e0e3f2" stroke="#c5cbe5" stroke-width="1"/>
<text class="lg" x="117.25" y="329.8" textLength="111.25" lengthAdjust="spacingAndGlyphs">Quantile 0.5/0.5</text>
<circle cx="255.9" cy="324.1" r="3.8" fill="#9ca3c4" stroke="#45609f" stroke-width="1.4"/>
<text class="lg" x="266.25" y="329.8" textLength="85" lengthAdjust="spacingAndGlyphs">Quantile 1/1</text>
<circle cx="380.15" cy="324.1" r="3.9" fill="#4472c4" stroke="#3a64b5" stroke-width="1"/>
<text class="lg" x="389.8" y="329.8" textLength="85.2" lengthAdjust="spacingAndGlyphs">Quantile 5/5</text>
</g>
<g transform="translate(618.1,724)">
<text class="ti" x="127.1" y="16.6" textLength="318" lengthAdjust="spacingAndGlyphs">(vi) BTC AUD Quantile Coherence</text>
<text class="ca" x="76.4" y="48.1" textLength="57.5" lengthAdjust="spacingAndGlyphs">126 Days</text>
<text class="ca" x="166.5" y="48.1" textLength="50" lengthAdjust="spacingAndGlyphs">63 Days</text>
<text class="ca" x="253.2" y="48.1" textLength="49.6" lengthAdjust="spacingAndGlyphs">21 Days</text>
<text class="ca" x="339.8" y="48.1" textLength="48.9" lengthAdjust="spacingAndGlyphs">10 Days</text>
<text class="ca" x="429.7" y="48.1" textLength="42.3" lengthAdjust="spacingAndGlyphs">5 Days</text>
<text class="ca" x="516" y="48.1" textLength="42" lengthAdjust="spacingAndGlyphs">2 Days</text>
<text class="yt" transform="translate(11.7,258.4) rotate(-90)" x="0" y="0" textLength="161.4" lengthAdjust="spacingAndGlyphs">QUANTILE COHERENCE</text>
<text class="tk" x="47.3" y="79.27">0.5</text>
<rect x="61.6" y="73.02" width="518.1" height="1.3" fill="#d9d9d9"/>
<text class="tk" x="47.3" y="123.18">0.3</text>
<rect x="61.6" y="116.93" width="518.1" height="1.3" fill="#d9d9d9"/>
<text class="tk" x="47.3" y="167.27">0.1</text>
<rect x="61.6" y="161.02" width="518.1" height="1.3" fill="#d9d9d9"/>
<text class="tk" x="47.3" y="211.1">-0.1</text>
<rect x="61.6" y="204.85" width="518.1" height="1.3" fill="#d9d9d9"/>
<text class="tk" x="47.3" y="254.77">-0.3</text>
<rect x="61.6" y="248.52" width="518.1" height="1.3" fill="#d9d9d9"/>
<text class="tk" x="47.3" y="298.35">-0.5</text>
<rect x="61.6" y="292.1" width="518.1" height="1.3" fill="#d9d9d9"/>
<rect x="61.5" y="157.2" width="23.2" height="64.3" fill="#2f5597"/>
<rect x="85.2" y="87.6" width="21.3" height="58.4" fill="#8faadc" stroke="#4472c4" stroke-width="1.2"/>
<rect x="106.9" y="137.55" width="22.4" height="63.15" fill="#b4c7e7" stroke="#8faadc" stroke-width="1.2"/>
<rect x="151.54" y="163.05" width="23.2" height="57.35" fill="#2f5597"/>
<rect x="175.24" y="102.25" width="21.3" height="52.75" fill="#8faadc" stroke="#4472c4" stroke-width="1.2"/>
<rect x="196.94" y="147.45" width="22.4" height="55.45" fill="#b4c7e7" stroke="#8faadc" stroke-width="1.2"/>
<rect x="241.58" y="172.5" width="23.2" height="46.8" fill="#2f5597"/>
<rect x="265.28" y="154.25" width="21.3" height="44.85" fill="#8faadc" stroke="#4472c4" stroke-width="1.2"/>
<rect x="286.98" y="173.1" width="22.4" height="45.6" fill="#b4c7e7" stroke="#8faadc" stroke-width="1.2"/>
<rect x="331.62" y="147.75" width="23.2" height="47.45" fill="#2f5597"/>
<rect x="355.32" y="147.45" width="21.3" height="45.35" fill="#8faadc" stroke="#4472c4" stroke-width="1.2"/>
<rect x="377.02" y="184.8" width="22.4" height="44.5" fill="#b4c7e7" stroke="#8faadc" stroke-width="1.2"/>
<rect x="422.06" y="156.05" width="23.2" height="47.45" fill="#2f5597"/>
<rect x="445.76" y="197.45" width="21.3" height="44.85" fill="#8faadc" stroke="#4472c4" stroke-width="1.2"/>
<rect x="467.46" y="173.1" width="22.4" height="45.6" fill="#b4c7e7" stroke="#8faadc" stroke-width="1.2"/>
<rect x="512.1" y="169.15" width="23.2" height="65.45" fill="#2f5597"/>
<rect x="535.8" y="138.9" width="21.3" height="65.2" fill="#8faadc" stroke="#4472c4" stroke-width="1.2"/>
<rect x="557.5" y="153.35" width="22.4" height="64.9" fill="#b4c7e7" stroke="#8faadc" stroke-width="1.2"/>
<rect x="61.6" y="183.1" width="518.1" height="1.6" fill="#d9d9d9"/>
<circle cx="73.1" cy="189.6" r="5.6" fill="#e3e5f3" stroke="#d6daee" stroke-width="0.6"/>
<circle cx="95.8" cy="115.8" r="4.1" fill="#a1a6c3" stroke="#405c9a" stroke-width="1.5"/>
<circle cx="118" cy="168.7" r="4.3" fill="#3e6cbc" stroke="#345ea8" stroke-width="1"/>
<circle cx="163.14" cy="191.9" r="5.6" fill="#e3e5f3" stroke="#d6daee" stroke-width="0.6"/>
<circle cx="185.84" cy="127.3" r="4.1" fill="#a1a6c3" stroke="#405c9a" stroke-width="1.5"/>
<circle cx="208.04" cy="174.6" r="4.3" fill="#3e6cbc" stroke="#345ea8" stroke-width="1"/>
<circle cx="253.18" cy="195.3" r="5.6" fill="#e3e5f3" stroke="#d6daee" stroke-width="0.6"/>
<circle cx="275.88" cy="175.7" r="4.1" fill="#a1a6c3" stroke="#405c9a" stroke-width="1.5"/>
<circle cx="298.08" cy="195.3" r="4.3" fill="#3e6cbc" stroke="#345ea8" stroke-width="1"/>
<circle cx="343.22" cy="170.05" r="5.6" fill="#e3e5f3" stroke="#d6daee" stroke-width="0.6"/>
<circle cx="365.92" cy="170.05" r="4.1" fill="#a1a6c3" stroke="#405c9a" stroke-width="1.5"/>
<circle cx="388.12" cy="206.1" r="4.3" fill="#3e6cbc" stroke="#345ea8" stroke-width="1"/>
<circle cx="433.26" cy="178.4" r="5.6" fill="#e3e5f3" stroke="#d6daee" stroke-width="0.6"/>
<circle cx="455.96" cy="218.9" r="4.1" fill="#a1a6c3" stroke="#405c9a" stroke-width="1.5"/>
<circle cx="478.16" cy="195.3" r="4.3" fill="#3e6cbc" stroke="#345ea8" stroke-width="1"/>
<circle cx="523.3" cy="201.3" r="5.6" fill="#e3e5f3" stroke="#d6daee" stroke-width="0.6"/>
<circle cx="546" cy="170.05" r="4.1" fill="#a1a6c3" stroke="#405c9a" stroke-width="1.5"/>
<circle cx="568.2" cy="184.45" r="4.3" fill="#3e6cbc" stroke="#345ea8" stroke-width="1"/>
<circle cx="106.9" cy="324.1" r="4.1" fill="#e0e3f2" stroke="#c5cbe5" stroke-width="1"/>
<text class="lg" x="117.25" y="329.8" textLength="111.25" lengthAdjust="spacingAndGlyphs">Quantile 0.5/0.5</text>
<circle cx="255.9" cy="324.1" r="3.8" fill="#9ca3c4" stroke="#45609f" stroke-width="1.4"/>
<text class="lg" x="266.25" y="329.8" textLength="85" lengthAdjust="spacingAndGlyphs">Quantile 1/1</text>
<circle cx="380.15" cy="324.1" r="3.9" fill="#4472c4" stroke="#3a64b5" stroke-width="1"/>
<text class="lg" x="389.8" y="329.8" textLength="85.2" lengthAdjust="spacingAndGlyphs">Quantile 5/5</text>
</g>
</svg>
</body></html>
